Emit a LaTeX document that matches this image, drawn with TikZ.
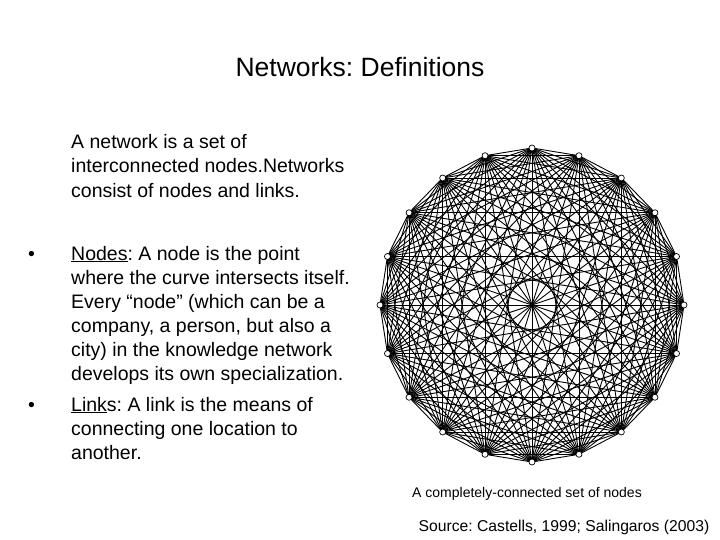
\documentclass[tikz,border=0pt]{standalone}
\usepackage{fontspec}
\setmainfont{Liberation Sans}
\frenchspacing
\begin{document}
\begin{tikzpicture}[x=1pt,y=-1pt,
  txt/.style={anchor=base west,inner sep=0pt,font=\fontsize{19.5}{22}\selectfont},
  vtx/.style={circle,draw,fill=white,inner sep=0pt,minimum size=6pt,line width=0.7pt},
  edge/.style={line width=0.9pt}]
\useasboundingbox[fill=white] (0,0) rectangle (720,540);
\node[anchor=base,inner sep=0pt,font=\fontsize{26.5}{30}\selectfont\frenchspacing] (title) at (360,77) {Networks: Definitions};
\node[txt] (l1) at (71,149) {A network is a set of};
\node[txt] (l2) at (71,173) {interconnected nodes.Networks};
\node[txt] (l3) at (71,197) {consist of nodes and links.};
\node[txt] (b1) at (28,260) {•};
\node[txt] (n1l) at (71,260) {\underline{Nodes}: A node is the point};
\node[txt] (n2l) at (71,284) {where the curve intersects itself.};
\node[txt] (n3l) at (71,308) {Every “node” (which can be a};
\node[txt] (n4l) at (71,332) {company, a person, but also a};
\node[txt] (n5l) at (71,356) {city) in the knowledge network};
\node[txt] (n6l) at (71,380) {develops its own specialization.};
\node[txt] (b2) at (28,411) {•};
\node[txt] (k1) at (71,411) {\underline{Link}s: A link is the means of};
\node[txt] (k2) at (71,435) {connecting one location to};
\node[txt] (k3) at (71,459) {another.};
\foreach \i in {1,...,20}{
  \coordinate (c\i) at ({532+152*cos(90+18*(\i-1))},{305-157*sin(90+18*(\i-1))});
}
\foreach \i in {1,...,20}{
  \foreach \j in {1,...,20}{
    \ifnum\j>\i \draw[edge] (c\i) -- (c\j); \fi
  }
}
\foreach \i in {1,...,20}{ \node[vtx] (v\i) at (c\i) {}; }
\node[anchor=base,inner sep=0pt,font=\fontsize{14}{16}\selectfont] (cap) at (527,497) {A completely-connected set of nodes};
\node[anchor=base,inner sep=0pt,font=\fontsize{15.7}{18}\selectfont] (src) at (564,531) {Source: Castells, 1999; Salingaros (2003)};
\end{tikzpicture}
\end{document}
